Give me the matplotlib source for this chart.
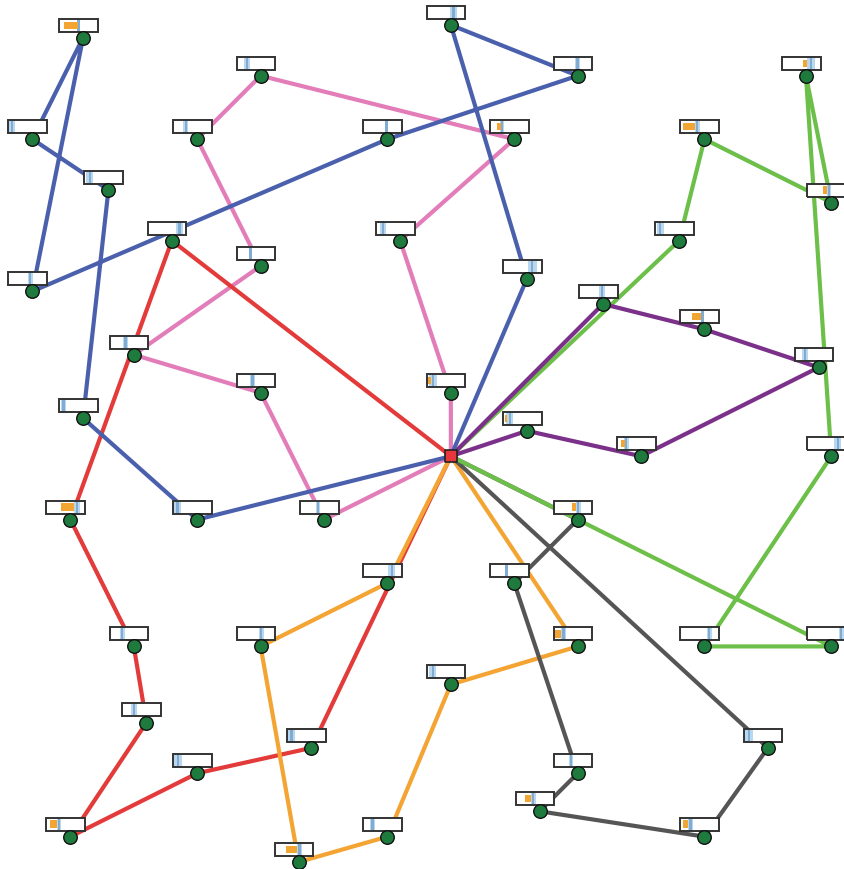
import matplotlib
matplotlib.use("Agg")
import matplotlib.pyplot as plt
from matplotlib.patches import Rectangle

# customer locations (index 0 = depot)
node_x = [0.0,
          -5.8, -6.6, -5.4, -6.6, -4.4, -3.0, -4.0, -1.0, 0.0, 2.0,
          1.0, -0.8, -3.0, 1.2, 4.0, 5.6, 6.0, 3.6, 2.4, 4.0,
          5.8, -5.0, -3.0, -5.8, 0.0, 1.2, 3.0, 6.0, -6.0, -4.0,
          -2.0, 2.0, -1.0, 1.0, -5.0, -3.0, 2.0, 4.0, 6.0, 0.0,
          -4.8, -2.2, 5.0, -4.0, 2.0, -6.0, -1.0, 1.4, 4.0, -2.4]
node_y = [0.0,
          6.6, 5.0, 4.2, 2.6, 3.4, 6.0, 5.0, 5.0, 6.8, 6.0,
          5.0, 3.4, 3.0, 2.8, 5.0, 6.0, 4.0, 3.4, 2.4, 2.0,
          1.4, 1.6, 1.0, 0.6, 1.0, 0.4, 0.0, 0.0, -1.0, -1.0,
          -1.0, -1.0, -2.0, -2.0, -3.0, -3.0, -3.0, -3.0, -3.0, -3.6,
          -4.2, -4.6, -4.6, -5.0, -5.0, -6.0, -6.0, -5.6, -6.0, -6.4]

# time window (blue) and waiting (orange) as fractions of the horizon
tw_start = [None,
            0.48, 0.03, 0.05, 0.50, 0.74, 0.19, 0.26, 0.56, 0.60, 0.55,
            0.25, 0.09, 0.32, 0.65, 0.37, 0.64, 0.50, 0.04, 0.52, 0.53,
            0.18, 0.34, 0.35, 0.04, 0.07, 0.09, 0.17, 0.70, 0.71, 0.02,
            0.41, 0.58, 0.65, 0.38, 0.26, 0.58, 0.18, 0.68, 0.81, 0.07,
            0.22, 0.03, 0.02, 0.02, 0.40, 0.28, 0.17, 0.40, 0.20, 0.59]
tw_end = [None,
          0.53, 0.18, 0.23, 0.64, 0.91, 0.34, 0.39, 0.63, 0.79, 0.68,
          0.35, 0.27, 0.41, 0.87, 0.50, 0.86, 0.62, 0.23, 0.67, 0.62,
          0.35, 0.47, 0.47, 0.19, 0.26, 0.27, 0.31, 0.88, 0.87, 0.21,
          0.53, 0.70, 0.83, 0.47, 0.39, 0.70, 0.33, 0.81, 0.95, 0.24,
          0.37, 0.19, 0.24, 0.24, 0.50, 0.39, 0.30, 0.52, 0.33, 0.70]
wait = {1: (0.13, 0.50), 11: (0.17, 0.27), 15: (0.06, 0.37), 16: (0.55, 0.66),
        17: (0.40, 0.50), 20: (0.30, 0.53), 25: (0.03, 0.10), 26: (0.05, 0.12),
        27: (0.11, 0.20), 29: (0.37, 0.71), 32: (0.47, 0.58), 37: (0.04, 0.18),
        46: (0.09, 0.28), 48: (0.24, 0.40), 49: (0.07, 0.20), 50: (0.29, 0.59)}

# vehicle routes (customer indices, depot added at both ends)
route_pink = [25, 12, 11, 6, 7, 13, 22, 23, 31]
route_red = [5, 29, 35, 41, 46, 44, 42]
route_orange = [33, 36, 50, 47, 40, 37]
route_gray = [32, 34, 45, 48, 49, 43]
route_green = [18, 15, 17, 16, 28, 38, 39]
route_purple = [26, 27, 21, 20, 19]
route_blue = [14, 9, 10, 8, 4, 1, 2, 3, 24, 30]

routes = [
    (route_pink, '#e27db9'),
    (route_red, '#e33a3a'),
    (route_orange, '#f4a433'),
    (route_gray, '#555555'),
    (route_green, '#6cc04a'),
    (route_purple, '#7b3089'),
    (route_blue, '#4a60ad'),
]

fig = plt.figure(figsize=(8.44, 8.7), dpi=100)
ax = fig.add_axes([0, 0, 1, 1])
ax.set_xlim(-7.11, 6.2)
ax.set_ylim(-6.51, 7.21)
ax.set_aspect('equal')
ax.axis('off')

for route, color in routes:
    stops = [0] + route + [0]
    ax.plot([node_x[i] for i in stops], [node_y[i] for i in stops],
            color=color, lw=3.0, solid_capstyle='round', zorder=2)

# time window glyphs
bw, bh = 0.61, 0.205
for i in range(1, len(node_x)):
    x0 = node_x[i] - 0.38
    y0 = node_y[i] + 0.095
    ax.add_patch(Rectangle((x0, y0), bw, bh, facecolor='white',
                           edgecolor='none', zorder=3))
    a, b = tw_start[i], tw_end[i]
    ax.add_patch(Rectangle((x0 + a * bw, y0), (b - a) * bw, bh,
                           facecolor='#b9d7ee', edgecolor='none', zorder=3.1))
    mid = (a + b) / 2
    ax.add_patch(Rectangle((x0 + (mid - 0.03) * bw, y0), 0.06 * bw, bh,
                           facecolor='#80acd4', edgecolor='none', zorder=3.2))
    if i in wait:
        s, e = wait[i]
        ax.add_patch(Rectangle((x0 + s * bw, y0 + 0.045), (e - s) * bw, bh - 0.09,
                               facecolor='#f3a531', edgecolor='none', zorder=3.3))
    ax.add_patch(Rectangle((x0, y0), bw, bh, facecolor='none',
                           edgecolor='#333333', lw=1.4, zorder=3.5))

ax.scatter(node_x[1:], node_y[1:], s=95, color='#1f7a3d', edgecolor='#111111',
           linewidth=1.0, zorder=4)
ax.scatter([node_x[0]], [node_y[0]], s=75, marker='s', color='#e8383d',
           edgecolor='#222222', linewidth=1.2, zorder=5)

fig.savefig('out.png', dpi=100)
